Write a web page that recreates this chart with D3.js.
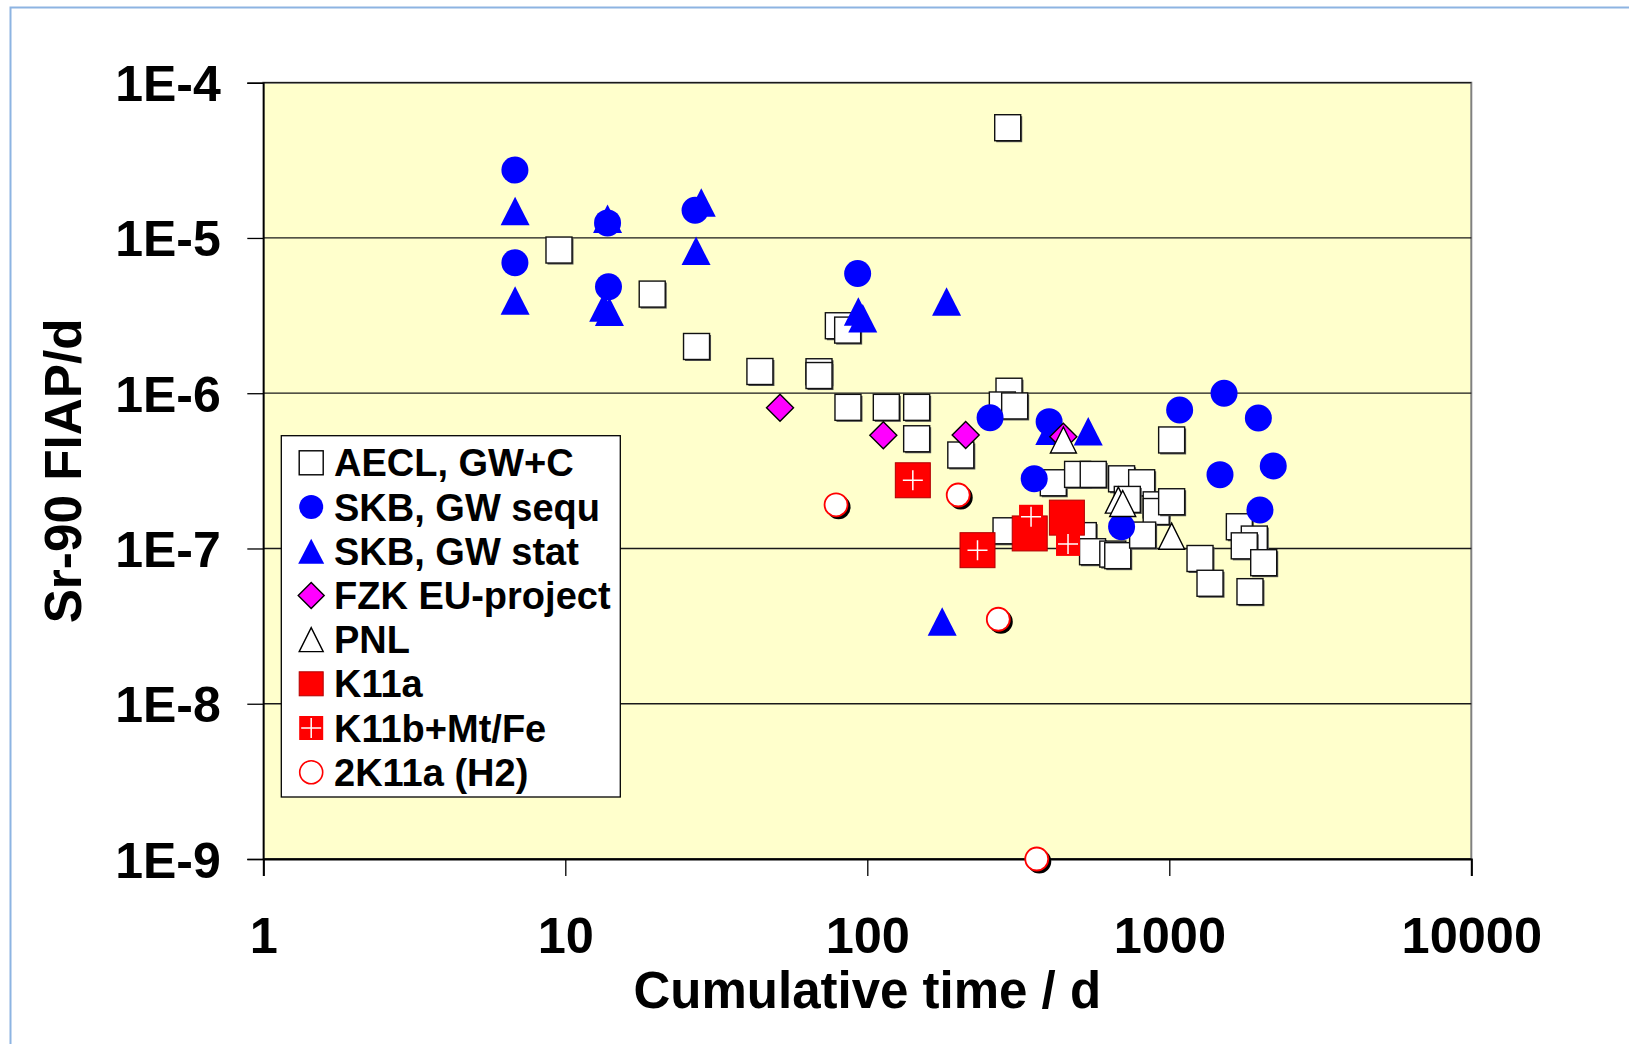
<!DOCTYPE html>
<html><head><meta charset="utf-8">
<script src="https://cdn.jsdelivr.net/npm/d3@7"></script>
<style>html,body{margin:0;padding:0;background:#fff;overflow:hidden}svg{display:block;font-family:"Liberation Sans",Arial,sans-serif;}</style>
</head><body><svg id="c" width="1629" height="1044"></svg>
<script>
// ---------- data ----------
const xTickValues = [1, 10, 100, 1000, 10000];
const xTickLabels = ["1", "10", "100", "1000", "10000"];
const yTickValues = [1e-9, 1e-8, 1e-7, 1e-6, 1e-5, 1e-4];
const yTickLabels = ["1E-9", "1E-8", "1E-7", "1E-6", "1E-5", "1E-4"];
const xTitle = "Cumulative time / d";
const yTitle = "Sr-90 FIAP/d";
const seriesNames = ["AECL, GW+C", "SKB, GW sequ", "SKB, GW stat", "FZK EU-project", "PNL", "K11a", "K11b+Mt/Fe", "2K11a (H2)"];

const aecl = [
  [9.53, 8.36e-6], [19.4, 4.35e-6], [27.2, 2.0e-6], [44.1, 1.38e-6], [69.2, 1.375e-6], [69.2, 1.30e-6],
  [80.2, 2.72e-6], [86.1, 2.55e-6], [86.3, 8.11e-7], [115.6, 8.11e-7], [145.7, 8.11e-7], [145.7, 5.09e-7],
  [204, 4.0e-7], [291.7, 5.13e-5], [294.6, 1.03e-6], [280, 8.4e-7], [307.6, 8.28e-7], [288, 1.30e-7],
  [413, 2.65e-7], [497, 3.0e-7], [560, 3.0e-7], [519, 1.21e-7], [557, 9.53e-8], [650, 9.2e-8],
  [675, 8.99e-8], [695, 2.81e-7], [810, 2.65e-7], [726, 2.07e-7], [905, 1.91e-7], [905, 1.73e-7],
  [816, 1.22e-7], [1018, 2.0e-7], [1018, 5.0e-7], [1264, 8.62e-8], [1364, 5.97e-8], [1706, 1.38e-7],
  [1912, 1.15e-7], [1771, 1.04e-7], [2054, 8.1e-8], [1850, 5.27e-8]
];
const skbSequ = [
  [6.81, 2.74e-5], [6.81, 6.93e-6], [13.8, 1.25e-5], [13.9, 4.85e-6], [26.9, 1.51e-5], [92.9, 5.91e-6],
  [255, 6.95e-7], [400, 6.56e-7], [357, 2.81e-7], [695, 1.38e-7], [1082, 7.8e-7], [1518, 9.99e-7],
  [1972, 6.92e-7], [1472, 2.99e-7], [2209, 3.40e-7], [1996, 1.77e-7]
];
const skbStat = [
  [6.82, 1.49e-5], [6.82, 3.96e-6], [13.8, 1.33e-5], [13.4, 3.57e-6], [14.0, 3.35e-6], [28.2, 1.69e-5],
  [27.1, 8.26e-6], [93.4, 3.36e-6], [96.6, 3.04e-6], [183, 3.89e-6], [177, 3.38e-8], [402, 5.74e-7],
  [539, 5.69e-7]
];
const fzk = [[51.4, 8.07e-7], [113, 5.36e-7], [211.7, 5.38e-7], [445.7, 5.25e-7]];
const pnl = [[446, 5.0e-7], [678, 2.05e-7], [701, 1.95e-7], [1018, 1.20e-7]];
const k11a = [[141.5, 2.75e-7], [231.7, 9.75e-8], [345, 1.25e-7], [458, 1.58e-7]];
const k11b = [[141.5, 2.75e-7], [231.7, 9.75e-8], [348.5, 1.60e-7], [462, 1.07e-7]];
const h2 = [[78.8, 1.91e-7], [200, 2.21e-7], [271.5, 3.50e-8], [364, 1.0e-9]];

// ---------- layout ----------
const svg = d3.select("#c");
const L = 263.3, R = 1471.3, T = 82.7, B = 859;
const x = d3.scaleLog().domain([1, 10000]).range([L, R]);
const y = d3.scaleLog().domain([1e-9, 1e-4]).range([B, T]);

// outer frame
svg.append("rect").attr("x", 10.5).attr("y", 7.5).attr("width", 1640).attr("height", 1060)
  .attr("fill", "#fff").attr("stroke", "#8db4e2").attr("stroke-width", 2);

// plot area
svg.append("rect").attr("x", L).attr("y", T).attr("width", R - L).attr("height", B - T)
  .attr("fill", "#ffffcc").attr("stroke", "#808080").attr("stroke-width", 2);

// gridlines
svg.append("g").selectAll("line").data(yTickValues).join("line")
  .attr("x1", L).attr("x2", R).attr("y1", d => y(d)).attr("y2", d => y(d))
  .attr("stroke", "#1a1a1a").attr("stroke-width", 1.3);

// axes
const fmtY = d => yTickLabels[yTickValues.indexOf(d)];
const fmtX = d => xTickLabels[xTickValues.indexOf(d)];
const gy = svg.append("g").attr("transform", `translate(${L},0)`)
  .call(d3.axisLeft(y).tickValues(yTickValues).tickFormat(fmtY).tickSize(16).tickPadding(26.5));
gy.select(".domain").attr("stroke", "#000").attr("stroke-width", 1.6);
gy.selectAll(".tick line").attr("stroke", "#000").attr("stroke-width", 1.3);
gy.selectAll(".tick text").attr("dy", "0.36em").attr("font-size", 50).attr("font-weight", "bold")
  .attr("fill", "#000").attr("font-family", "Liberation Sans, Arial, sans-serif");

const gx = svg.append("g").attr("transform", `translate(0,${B})`)
  .call(d3.axisBottom(x).tickValues(xTickValues).tickFormat(fmtX).tickSize(17));
gx.select(".domain").attr("stroke", "#000").attr("stroke-width", 2);
gx.selectAll(".tick line").attr("stroke", "#000").attr("stroke-width", 1.3);
gx.selectAll(".tick text").attr("y", 94).attr("dy", 0).attr("font-size", 50.5).attr("font-weight", "bold")
  .attr("fill", "#000").attr("font-family", "Liberation Sans, Arial, sans-serif");

// titles
svg.append("text").attr("x", (L + R) / 2).attr("y", 1008).attr("text-anchor", "middle")
  .attr("font-size", 51).attr("font-weight", "bold").text(xTitle);
svg.append("text").attr("transform", `translate(81,${(T + B) / 2}) rotate(-90)`).attr("text-anchor", "middle")
  .attr("font-size", 51.3).attr("font-weight", "bold").text(yTitle);

// ---------- marker drawers ----------
function square(g, cx, cy, s, fill, stroke, sw, shadow) {
  if (shadow) g.append("rect").attr("x", cx - s / 2 + 1.5).attr("y", cy - s / 2 + 1.5).attr("width", s).attr("height", s).attr("fill", "#555");
  g.append("rect").attr("x", cx - s / 2).attr("y", cy - s / 2).attr("width", s).attr("height", s)
    .attr("fill", fill).attr("stroke", stroke).attr("stroke-width", sw);
}
function circle(g, cx, cy, d, fill, stroke, sw, shadow) {
  if (shadow) g.append("circle").attr("cx", cx + 2.5).attr("cy", cy + 2.5).attr("r", d / 2 + 0.5).attr("fill", "#000");
  g.append("circle").attr("cx", cx).attr("cy", cy).attr("r", d / 2).attr("fill", fill)
    .attr("stroke", stroke).attr("stroke-width", sw);
}
function triangle(g, cx, cy, w, h, fill, stroke, sw) {
  g.append("path").attr("d", `M${cx},${cy - h / 2}L${cx + w / 2},${cy + h / 2}L${cx - w / 2},${cy + h / 2}Z`)
    .attr("fill", fill).attr("stroke", stroke).attr("stroke-width", sw).attr("stroke-linejoin", "miter");
}
function diamond(g, cx, cy, s, fill, stroke, sw) {
  g.append("path").attr("d", `M${cx},${cy - s / 2}L${cx + s / 2},${cy}L${cx},${cy + s / 2}L${cx - s / 2},${cy}Z`)
    .attr("fill", fill).attr("stroke", stroke).attr("stroke-width", sw);
}
function cross(g, cx, cy, len) {
  g.append("path").attr("d", `M${cx - len / 2},${cy}H${cx + len / 2}M${cx},${cy - len / 2}V${cy + len / 2}`)
    .attr("stroke", "#fff").attr("stroke-width", 1.5).attr("fill", "none");
}

// ---------- data marks ----------
const marks = svg.append("g");
const gA = marks.append("g");
aecl.forEach(d => square(gA, x(d[0]), y(d[1]), 26, "#fff", "#111", 1.4, true));
const gT = marks.append("g");
skbStat.forEach(d => triangle(gT, x(d[0]), y(d[1]), 29, 28.5, "#0000ff", "none", 0));
const gC = marks.append("g");
skbSequ.forEach(d => circle(gC, x(d[0]), y(d[1]), 27, "#0000ff", "none", 0, false));
const gD = marks.append("g");
fzk.forEach(d => diamond(gD, x(d[0]), y(d[1]), 27, "#ff00ff", "#000", 1.4));
const gP = marks.append("g");
pnl.forEach(d => triangle(gP, x(d[0]), y(d[1]), 26, 26, "#fff", "#000", 1.4));
const gK = marks.append("g");
k11a.forEach(d => square(gK, x(d[0]), y(d[1]), 35, "#ff0000", "#b00000", 1, false));
const gKb = marks.append("g");
k11b.forEach(d => { square(gKb, x(d[0]), y(d[1]), 24, "#ff0000", "none", 0, false); cross(gKb, x(d[0]), y(d[1]), 20); });
const gH = marks.append("g");
h2.forEach(d => circle(gH, x(d[0]), y(d[1]), 23, "#fff", "#ff0000", 1.8, true));

// ---------- legend ----------
const lg = svg.append("g");
lg.append("rect").attr("x", 281.3).attr("y", 435.7).attr("width", 339).attr("height", 361.3)
  .attr("fill", "#fff").attr("stroke", "#000").attr("stroke-width", 1.3);
const mx = 311.2, tx = 334, row0 = 462.8, rowH = 44.2;
seriesNames.forEach((name, i) => {
  const cy = row0 + i * rowH;
  if (i === 0) square(lg, mx, cy, 24, "#fff", "#000", 1.4, false);
  if (i === 1) circle(lg, mx, cy, 24, "#0000ff", "none", 0, false);
  if (i === 2) triangle(lg, mx, cy, 26, 25, "#0000ff", "none", 0);
  if (i === 3) diamond(lg, mx, cy, 26, "#ff00ff", "#000", 1.4);
  if (i === 4) triangle(lg, mx, cy, 24, 24, "#fff", "#000", 1.4);
  if (i === 5) square(lg, mx, cy, 24, "#ff0000", "#b00000", 1, false);
  if (i === 6) { square(lg, mx, cy, 24, "#ff0000", "none", 0, false); cross(lg, mx, cy, 20); }
  if (i === 7) circle(lg, mx, cy, 23, "#fff", "#ff0000", 1.6, false);
  lg.append("text").attr("x", tx).attr("y", cy + 13.5).attr("font-size", 38).attr("font-weight", "bold").text(name);
});
</script></body></html>
